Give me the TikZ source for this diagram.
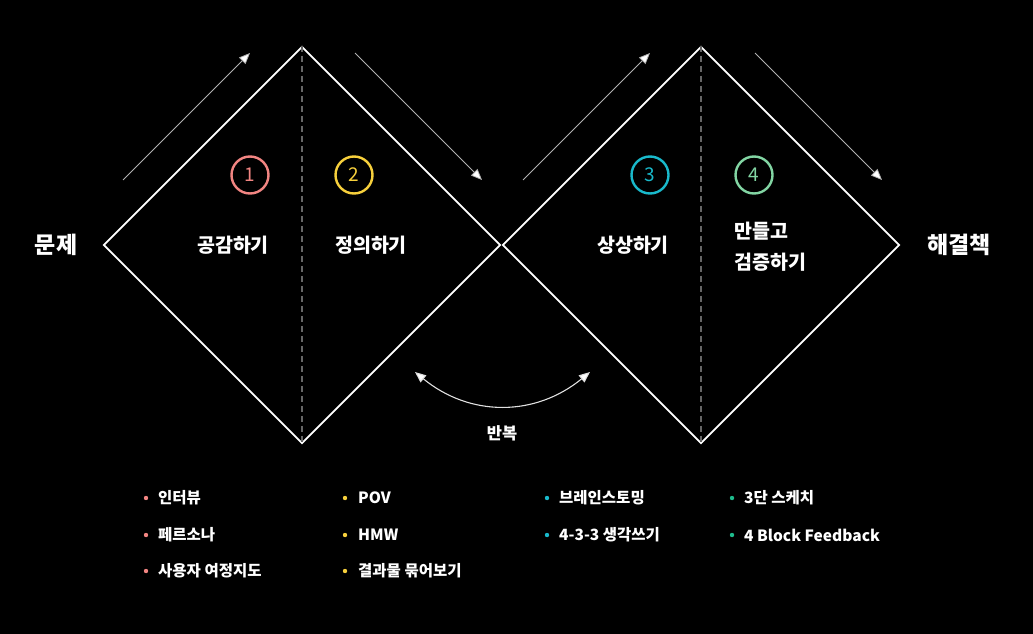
\documentclass[tikz,border=0pt]{standalone}
\usepackage{fontspec}
\setmainfont{Noto Sans CJK KR}
\usepackage{xcolor}
\usepackage{tikz}
\usetikzlibrary{arrows.meta,positioning,shapes.geometric}
\definecolor{pink1}{HTML}{F28582}
\definecolor{gold2}{HTML}{F7D03C}
\definecolor{cyan3}{HTML}{19B9CB}
\definecolor{mint4}{HTML}{82D5A3}
\definecolor{teal4}{HTML}{1EBB8C}
\tikzset{
  dia/.style={diamond, aspect=1, draw=white, line width=1.8pt,
    minimum width=397pt, minimum height=397pt, inner sep=0pt},
  mid/.style={draw=white!40!black, line width=1.4pt, dash pattern=on 6pt off 4pt},
  go/.style={draw=white!70!black, line width=0.8pt, -{Triangle[length=11pt,width=9pt,fill=white]}},
  loop/.style={draw=white!88!black, line width=1.1pt,
    {Triangle[length=11pt,width=9pt,fill=white]}-{Triangle[length=11pt,width=9pt,fill=white]}},
  num/.style={circle, line width=2.4pt, minimum size=37pt, inner sep=0pt, font=\fontsize{19}{19}\selectfont},
  stage/.style={text=white, font=\fontsize{19.5}{31}\selectfont\bfseries, inner sep=0pt},
  endpt/.style={text=white, font=\fontsize{23}{23}\selectfont\bfseries, inner sep=0pt},
  itm/.style={text=white, anchor=west, inner sep=0pt, font=\fontsize{15.5}{15.5}\selectfont\bfseries},
  dot/.style={circle, inner sep=0pt, minimum size=4.4pt},
}
\begin{document}
\begin{tikzpicture}[x=1pt, y=-1pt]
\fill[black] (0,0) rectangle (1033,634);
\useasboundingbox (0,0) rectangle (1033,634);
% diamonds
\node[dia] (dA) at (302,245) {};
\node[dia] (dB) at (701,245) {};
\draw[mid] (dA.north) -- (dA.south);
\draw[mid] (dB.north) -- (dB.south);
% arrows along the edges
\coordinate (a1s) at (123,180); \coordinate (a1e) at (250,53);
\coordinate (a2s) at (355,53);  \coordinate (a2e) at (482,180);
\coordinate (a3s) at (523,180); \coordinate (a3e) at (650,53);
\coordinate (a4s) at (755,53);  \coordinate (a4e) at (882,180);
\draw[go] (a1s) -- (a1e);
\draw[go] (a2s) -- (a2e);
\draw[go] (a3s) -- (a3e);
\draw[go] (a4s) -- (a4e);
% step numbers
\node[num, draw=pink1, text=pink1] (n1) at (250,175) {1};
\node[num, draw=gold2, text=gold2] (n2) at (354,175) {2};
\node[num, draw=cyan3, text=cyan3] (n3) at (650,175) {3};
\node[num, draw=mint4, text=mint4] (n4) at (754,175) {4};
% stage names
\node[stage] (s1) at (233,245) {공감하기};
\node[stage] (s2) at (371,245) {정의하기};
\node[stage] (s3) at (633,245) {상상하기};
\node[stage, align=left, anchor=west] (s4) at (734,247) {만들고\\검증하기};
\node[endpt] (prob) at (56,245) {문제};
\node[endpt] (sol)  at (959,245) {해결책};
% repeat
\coordinate (rL) at (415,372); \coordinate (rR) at (590,372);
\draw[loop] (rL) .. controls (470,417) and (535,417) .. (rR);
\node[stage, font=\fontsize{16.5}{16.5}\selectfont\bfseries] (rep) at (502,433) {반복};
% methods
\node[dot, fill=pink1] (d1a) at (146,498) {}; \node[itm] (m1a) at (158,498) {인터뷰};
\node[dot, fill=pink1] (d1b) at (146,535) {}; \node[itm] (m1b) at (158,535) {페르소나};
\node[dot, fill=pink1] (d1c) at (146,571) {}; \node[itm] (m1c) at (158,571) {사용자 여정지도};
\node[dot, fill=gold2] (d2a) at (345,498) {}; \node[itm] (m2a) at (358,498) {POV};
\node[dot, fill=gold2] (d2b) at (345,535) {}; \node[itm] (m2b) at (358,535) {HMW};
\node[dot, fill=gold2] (d2c) at (345,571) {}; \node[itm] (m2c) at (358,571) {결과물 묶어보기};
\node[dot, fill=cyan3] (d3a) at (547,498) {}; \node[itm] (m3a) at (559,498) {브레인스토밍};
\node[dot, fill=cyan3] (d3b) at (547,535) {}; \node[itm] (m3b) at (559,535) {4-3-3 생각쓰기};
\node[dot, fill=teal4] (d4a) at (732,498) {}; \node[itm] (m4a) at (744,498) {3단 스케치};
\node[dot, fill=teal4] (d4b) at (732,535) {}; \node[itm] (m4b) at (744,535) {4 Block Feedback};
\end{tikzpicture}
\end{document}
